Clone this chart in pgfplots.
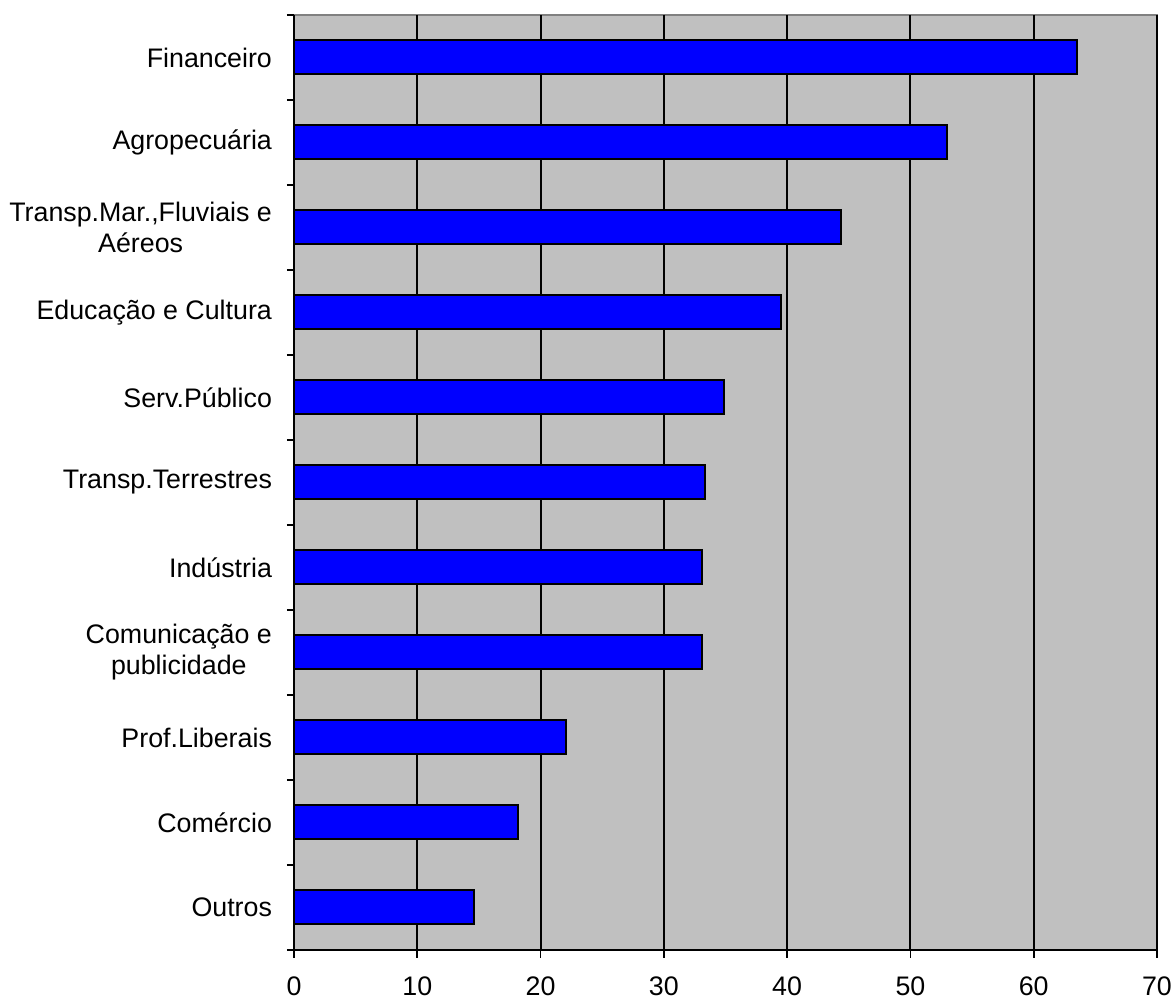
\documentclass[border=0pt]{standalone}
\usepackage{pgfplots}
\pgfplotsset{compat=1.18}
\usepackage{fontspec}
\setmainfont{Liberation Sans}
\definecolor{bggray}{RGB}{192,192,192}
\definecolor{edgegray}{RGB}{128,128,128}
\definecolor{barblue}{RGB}{0,0,255}
\begin{document}
\begin{tikzpicture}
\path[use as bounding box] (-147pt,-25.5pt) rectangle (440pt,475pt);
\begin{axis}[
  scale only axis,
  width=431.5pt, height=467.5pt,
  xmin=0, xmax=70,
  ymin=-0.5, ymax=10.5,
  xbar, bar width=17pt, bar shift=0pt,
  xtick={0,10,...,70},
  ytick={0,...,10},
  yticklabels={Outros,Comércio,Prof.Liberais,{Comunicação e\\publicidade},Indústria,Transp.Terrestres,Serv.Público,Educação e Cultura,{Transp.Mar.,Fluviais e\\Aéreos},Agropecuária,Financeiro},
  yticklabel style={align=center, font=\fontsize{13.4}{15.5}\selectfont},
  xticklabel style={font=\fontsize{13.4}{15.5}\selectfont, yshift=-6pt},
  /pgf/number format/assume math mode=true,
  major y tick style={draw=none},
  minor ytick={-0.5,0.5,...,10.5},
  minor y tick style={black, line width=0.9pt},
  minor tick length=3.5pt,
  major tick length=4pt,
  x tick style={black, line width=0.9pt},
  tick pos=left,
  tick align=outside,
  yticklabel shift=3.5pt,
  xmajorgrids,
  major x grid style={black, line width=1pt},
  axis line style={draw=none},
  axis background/.style={fill=bggray, draw=edgegray, line width=1pt},
  clip=false,
]
\addplot[fill=barblue, draw=black, line width=1pt] coordinates {
(14.6,0) (18.2,1) (22.1,2) (33.1,3) (33.1,4) (33.3,5) (34.9,6) (39.5,7) (44.4,8) (53.0,9) (63.5,10)
};
\draw[black, line width=1pt] (rel axis cs:0,1) -- (rel axis cs:0,0) -- (rel axis cs:1,0);
\end{axis}
\end{tikzpicture}
\end{document}
